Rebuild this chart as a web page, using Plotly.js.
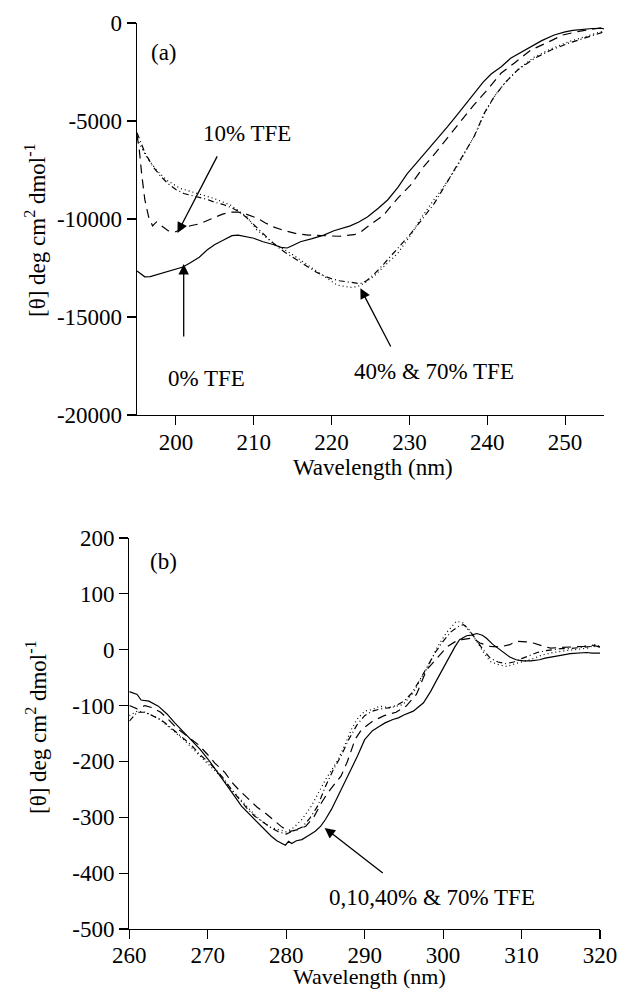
<!DOCTYPE html>
<html>
<head>
<meta charset="utf-8">
<script src="https://cdn.plot.ly/plotly-3.0.1.min.js"></script>
<style>html,body{margin:0;padding:0;background:#fff;}#chart{width:619px;height:990px;}</style>
</head>
<body>
<div id="chart"></div>
<script>
// ---------- Panel (a): far-UV CD ----------
const wlA0 = [195,195.5,196,196.7,197.5,198.4,199.5,200.9,201.8,203,204,205,206,207.2,208,209,210,211.2,212.5,213.5,214.3,215,216,217.5,219,220.3,221.5,222.4,223.5,224.6,226,227.2,228.5,229.7,231,232,233,234,234.9,236,237,238.3,239.5,240.5,241.8,243,244.5,245.6,247,248.6,250,251,252.1,253.5,254.7,255];
const thA0 = [-12650,-12800,-12950,-12940,-12850,-12760,-12600,-12450,-12250,-11950,-11580,-11300,-11100,-10850,-10820,-10900,-10980,-11160,-11300,-11450,-11480,-11350,-11160,-11000,-10820,-10600,-10450,-10350,-10150,-9900,-9450,-9030,-8400,-7700,-7100,-6650,-6150,-5700,-5290,-4750,-4250,-3570,-3000,-2600,-2230,-1800,-1450,-1210,-900,-610,-450,-380,-320,-280,-270,-300];

const wlA10 = [195,195.3,195.6,196,196.5,197,197.5,198,198.4,199,200,201,202,203,204.5,206,207,208,209,210.4,211.5,212.5,214,215.5,217,219,221,222.9,223.8,224.6,225.6,226.7,227.6,228.6,230.2,231.7,233.4,235,236.4,238.1,239.8,241.8,243.5,245.6,247.6,249.7,251.6,253.5,255];
const thA10 = [-5700,-6500,-7700,-9000,-9900,-10350,-10150,-10300,-10400,-10600,-10650,-10450,-10330,-10250,-10000,-9750,-9650,-9650,-9750,-9950,-10200,-10400,-10600,-10750,-10820,-10850,-10880,-10800,-10650,-10400,-10100,-9800,-9350,-8900,-8250,-7400,-6600,-5800,-5100,-4270,-3500,-2550,-2040,-1380,-1020,-610,-440,-300,-220];

const wlA40 = [195,196,197,198,199,200,201,202,203,204,205,206,207,208,209,210,211,212,213,214,215,216,217,218,219,220,221,222,223,223.7,224.5,225.5,226.7,227.6,228.5,230.2,231.9,233.2,234.5,235.8,237,238.3,239.6,240.9,242.2,243.9,246.1,248.2,250.4,252.5,254.2,255];
const thA40 = [-5600,-6600,-7300,-7800,-8200,-8500,-8700,-8800,-8900,-9000,-9150,-9250,-9400,-9600,-9900,-10300,-10700,-11050,-11400,-11700,-11950,-12200,-12450,-12700,-12900,-13050,-13150,-13200,-13250,-13300,-13150,-12800,-12300,-11900,-11500,-10730,-9880,-9200,-8350,-7500,-6650,-5800,-4610,-3760,-3080,-2400,-1800,-1380,-1040,-780,-530,-450];

const wlA70 = [195,196.2,197.5,198.8,200.5,202.7,204.8,207,208,209.1,210.4,212.5,214.7,216.9,219,220.7,222.4,223.3,224.2,225.5,226.7,228.5,230.2,231.5,233,234.5,236,237.3,238.5,239.8,241,242.4,244,246,248.3,250.5,252.5,254.3,255];
const thA70 = [-5900,-6820,-7500,-8010,-8430,-8690,-8940,-9290,-9550,-9880,-10560,-11230,-11740,-12350,-12940,-13370,-13490,-13450,-13280,-12900,-12430,-11750,-10800,-9950,-9100,-8300,-7400,-6500,-5650,-4500,-3700,-3000,-2350,-1750,-1300,-950,-700,-480,-400];

const xTicksA = [200,210,220,230,240,250];
const yTicksA = [-20000,-15000,-10000,-5000,0];
const yTickTextA = ['-20000','-15000','-10000','-5000','0'];

// ---------- Panel (b): near-UV CD ----------
const wlB0 = [260,261,261.5,262.5,263.7,264.8,265.8,267,267.9,269,270.1,271.2,272.2,273.3,274.3,275.4,276.4,277.3,278.1,278.8,279.4,279.9,280.3,280.7,281.3,282,282.8,283.7,284.4,285,285.8,286.6,287.5,288.3,289.1,290,291,291.9,292.6,293.6,294.3,295,296.2,297.5,298.4,299.2,300,300.9,301.5,302.1,303,303.6,304.3,305,305.5,306.3,307.2,308.5,309.3,310.2,311.2,312.3,313,314,315,316.2,317.2,318.3,319,320];
const thB0 = [-75,-80,-90,-92,-101,-115,-131,-148,-161,-178,-197,-218,-238,-260,-280,-296,-310,-322,-334,-342,-346,-350,-343,-347,-342,-340,-333,-325,-316,-304,-285,-262,-238,-215,-190,-161,-145,-137,-131,-125,-122,-117,-110,-95,-75,-54,-33,-12,5,18,25,26,29,26,21,10,0,-13,-18,-20,-20,-18,-15,-12,-10,-7,-6,-5,-6,-6];

const wlB10 = [260,261,262,263,264,265,266,267.1,268.8,270,270.9,272.2,273,273.9,275.2,276.3,277.3,278.6,279.5,280.5,281.5,282.5,283.5,284.5,285.3,286.2,287,287.8,288.8,289.6,291,292.5,294,295.3,296.6,297.9,299.4,300.5,301.5,302.4,303.7,304.7,306,307.2,308.5,309.3,310.6,311.5,312.8,313.7,315,316.5,318,318.7,319.5,320];
const thB10 = [-100,-106,-100,-104,-112,-125,-140,-152,-170,-188,-203,-220,-236,-250,-268,-282,-292,-307,-318,-325,-322,-316,-300,-274,-256,-240,-226,-200,-160,-143,-128,-118,-112,-101,-80,-36,-12,5,14,18,21,12,6,5,9,15,14,12,6,3,4,5,6,9,6,5];

const wlB40 = [260,261,262,263,264,265,266,267,268,269,270,271,272,273,274,275,276,277,278,279,280,281,282,283,284,285,286,287,288,289,290,291,292,293,294,295,296,297,298,299,300,301,302,302.6,303.2,304,305,306,307,308,309,310,311,312,313,314,315,316,317,318,319,320];
const thB40 = [-128,-112,-112,-118,-125,-136,-148,-160,-172,-188,-200,-214,-230,-250,-268,-284,-298,-308,-318,-326,-330,-324,-318,-302,-280,-245,-215,-190,-160,-135,-118,-110,-106,-104,-100,-92,-78,-55,-30,-5,15,32,42,45,38,22,2,-15,-22,-25,-22,-16,-10,-5,-2,0,2,2,3,4,6,5];

const wlB70 = [260,261,262,263,264,265,266,267,268,269,270,271,272,273,274,275,276,277,278,279,280,281,282,283.2,284,285,285.8,286.6,287.5,288.3,289,290,291,291.9,293.2,294.9,296.2,297.2,298.3,299.2,300.4,301.7,302.5,303.2,304.3,305.2,306,307.1,308.1,309.4,311.1,312.5,314,315.5,317,318.5,319.3,320];
const thB70 = [-118,-110,-112,-118,-126,-138,-150,-162,-176,-190,-204,-218,-232,-250,-266,-282,-296,-308,-318,-322,-326,-318,-304,-280,-258,-233,-215,-197,-170,-143,-125,-110,-107,-101,-104,-98,-77,-51,-24,3,30,51,48,36,15,-6,-21,-27,-30,-24,-18,-10,-5,-2,0,3,9,6];

const xTicksB = [260,270,280,290,300,310,320];
const yTicksB = [-500,-400,-300,-200,-100,0,100,200];
const yTickTextB = ['-500','-400','-300','-200','-100','0','100','200'];

const seriesNames = ['0% TFE','10% TFE','40% TFE','70% TFE'];

// ---------- layout helpers ----------
const W = 619, H = 990;
const px = (x) => x / W;
const py = (y) => 1 - y / H;
const FONT = 'Liberation Serif, Times New Roman, serif';

function line(x, y, dash, name, xa, ya) {
  return {x: x, y: y, type: 'scatter', mode: 'lines', name: name, xaxis: xa, yaxis: ya,
          line: {color: '#000', width: 1.2, dash: dash}, showlegend: false, hoverinfo: 'skip'};
}

const traces = [
  line(wlA0, thA0, 'solid', seriesNames[0], 'x', 'y'),
  line(wlA10, thA10, '9px,6px', seriesNames[1], 'x', 'y'),
  line(wlA40, thA40, '6px,3px,1px,3px', seriesNames[2], 'x', 'y'),
  line(wlA70, thA70, '1px,3px', seriesNames[3], 'x', 'y'),
  line(wlB0, thB0, 'solid', seriesNames[0], 'x2', 'y2'),
  line(wlB10, thB10, '9px,6px', seriesNames[1], 'x2', 'y2'),
  line(wlB40, thB40, '6px,3px,1px,3px', seriesNames[2], 'x2', 'y2'),
  line(wlB70, thB70, '1px,3px', seriesNames[3], 'x2', 'y2')
];

const axisCommon = {
  showgrid: false, zeroline: false, showline: true, linecolor: '#000', linewidth: 1.3,
  ticks: 'outside', ticklen: 9, tickwidth: 1.1, tickcolor: '#000',
  tickfont: {family: FONT, size: 23, color: '#000'}, automargin: false, fixedrange: true
};

const layout = {
  width: W, height: H, autosize: false,
  margin: {l: 0, r: 0, t: 0, b: 0, pad: 0},
  paper_bgcolor: '#fff', plot_bgcolor: '#fff',
  font: {family: FONT, size: 23, color: '#000'},
  showlegend: false,
  xaxis: Object.assign({}, axisCommon, {domain: [px(137), px(604)], range: [195, 255], tickvals: xTicksA, ticktext: xTicksA.map(String), anchor: 'y', ticklabelstandoff: -3}),
  yaxis: Object.assign({}, axisCommon, {domain: [py(415), py(23)], range: [-20000, 0], tickvals: yTicksA, ticktext: yTickTextA, anchor: 'x'}),
  xaxis2: Object.assign({}, axisCommon, {domain: [px(129.3), px(600)], range: [260, 320], tickvals: xTicksB, ticktext: xTicksB.map(String), anchor: 'y2', ticklabelstandoff: -4}),
  yaxis2: Object.assign({}, axisCommon, {domain: [py(929), py(538)], range: [-500, 200], tickvals: yTicksB, ticktext: yTickTextB, anchor: 'x2'}),
  annotations: []
};

function label(text, x, y, extra) {
  return Object.assign({text: text, xref: 'paper', yref: 'paper', x: px(x), y: py(y),
    xanchor: 'center', yanchor: 'middle', showarrow: false,
    font: {family: FONT, size: 23, color: '#000'}}, extra || {});
}
function arrow(xr, yr, hx, hy, tx, ty) {
  return {text: '', xref: xr, yref: yr, axref: xr, ayref: yr, x: hx, y: hy, ax: tx, ay: ty,
    showarrow: true, arrowhead: 2, arrowsize: 1.6, arrowwidth: 1.3, arrowcolor: '#000', standoff: 0};
}
const yTitle = '[θ] deg cm<sup>2</sup> dmol<sup>-1</sup>';

layout.annotations.push(
  label('(a)', 164, 52),
  label('10% TFE', 247, 134),
  label('0% TFE', 206, 378),
  label('40% &amp; 70% TFE', 434, 371),
  label('Wavelength (nm)', 373, 468),
  label(yTitle, 36, 230, {textangle: -90}),
  label('(b)', 163, 561),
  label('0,10,40% &amp; 70% TFE', 432, 897),
  label('Wavelength (nm)', 369, 976, {font: {family: FONT, size: 22, color: '#000'}, borderpad: 0}),
  label(yTitle, 36, 727, {textangle: -90}),
  arrow('x', 'y', 200.2, -10710, 205.4, -6730),
  arrow('x', 'y', 201, -12300, 201, -16070),
  arrow('x', 'y', 223.7, -13530, 227.7, -16580),
  arrow('x2', 'y2', 284.9, -319, 292.5, -402)
);

Plotly.newPlot('chart', traces, layout, {staticPlot: true, displayModeBar: false});
</script>
</body>
</html>
